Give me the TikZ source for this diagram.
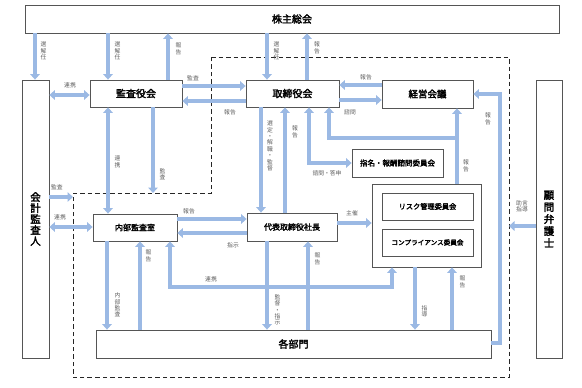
\documentclass[tikz,border=0pt]{standalone}
\usepackage{fontspec}
\setmainfont{Noto Sans CJK JP}[AutoFakeBold=2.5]
\usetikzlibrary{arrows.meta}
\definecolor{arrc}{RGB}{155,185,228}
\definecolor{bordc}{RGB}{85,85,85}
\definecolor{labc}{RGB}{95,95,95}
\tikzset{
  box/.style={draw=bordc, line width=0.8pt, fill=white, inner sep=0pt, font=\bfseries\fontsize{10}{11}\selectfont},
  arr/.style={draw=arrc, line width=4pt, -{Triangle[width=9.5pt,length=5.5pt]}},
  arrD/.style={draw=arrc, line width=4pt, {Triangle[width=9.5pt,length=5.5pt]}-{Triangle[width=9.5pt,length=5.5pt]}},
  lab/.style={text=labc, font=\fontsize{5.8}{6.4}\selectfont, inner sep=0pt, align=center},
  dashbox/.style={draw=black!85, line width=1pt, dash pattern=on 4.5pt off 3pt},
}
\begin{document}
\begin{tikzpicture}[x=1pt,y=-1pt]
\useasboundingbox[fill=white] (0,0) rectangle (582,388);
% dashed region
\coordinate (d1) at (211,57);
\coordinate (d2) at (509,57);
\coordinate (d3) at (509,377);
\coordinate (d4) at (73,377);
\coordinate (d5) at (73,193);
\coordinate (d6) at (211,193);
\draw[dashbox] (d1) -- (d2) -- (d3) -- (d4) -- (d5) -- (d6) -- cycle;
% boxes
\node[box, minimum width=534pt, minimum height=28pt] (kabu) at (292,19) {株主総会};
\node[box, minimum width=27pt, minimum height=278pt, align=center, font=\bfseries\fontsize{10.5}{11}\selectfont] (kaikei) at (35.5,219) {会\\計\\監\\査\\人};
\node[box, minimum width=26pt, minimum height=278pt, align=center, font=\bfseries\fontsize{10.5}{12}\selectfont] (komon) at (549,219) {顧\\問\\弁\\護\\士};
\node[box, minimum width=92pt, minimum height=27pt] (kansa) at (136,93.5) {監査役会};
\node[box, minimum width=93pt, minimum height=27pt] (tori) at (292.5,93.5) {取締役会};
\node[box, minimum width=91pt, minimum height=28pt, font=\bfseries\fontsize{9.5}{11}\selectfont] (keiei) at (427.5,94) {経営会議};
\node[box, minimum width=91pt, minimum height=28pt, font=\bfseries\fontsize{7.5}{9}\selectfont] (shimei) at (397.5,163) {指名・報酬諮問委員会};
\node[box, minimum width=109pt, minimum height=83pt] (iinkai) at (426.5,225.5) {};
\node[box, minimum width=91pt, minimum height=27pt, font=\bfseries\fontsize{7.2}{9}\selectfont] (risk) at (427.5,206.5) {リスク管理委員会};
\node[box, minimum width=91pt, minimum height=27pt, font=\bfseries\fontsize{6.6}{8}\selectfont] (comp) at (427.5,242.5) {コンプライアンス委員会};
\node[box, minimum width=84pt, minimum height=27pt, font=\bfseries\fontsize{8}{9}\selectfont] (naibu) at (135,227.5) {内部監査室};
\node[box, minimum width=90pt, minimum height=28pt, font=\bfseries\fontsize{8}{9}\selectfont] (daihyo) at (292,227) {代表取締役社長};
\node[box, minimum width=395pt, minimum height=28pt] (kakubu) at (293.5,344) {各部門};
% free ends and joints
\coordinate (e153) at (153,193);
\coordinate (e73) at (73,197);
\coordinate (e509) at (509,226);
\coordinate (j457) at (457,138);
\coordinate (j170) at (170,287);
\coordinate (j392) at (392,287);
% arrows from/to 株主総会
\draw[arr] (kabu.south -| 35,0) -- (kaikei.north -| 35,0);
\draw[arr] (kabu.south -| 108,0) -- (kansa.north -| 108,0);
\draw[arr] (kansa.north -| 168,0) -- (kabu.south -| 168,0);
\draw[arr] (kabu.south -| 267,0) -- (tori.north -| 267,0);
\draw[arr] (tori.north -| 307,0) -- (kabu.south -| 307,0);
% top row horizontals
\draw[arrD] (kaikei.east |- 0,95) -- (kansa.west |- 0,95);
\draw[arr] (kansa.east |- 0,86) -- (tori.west |- 0,86);
\draw[arr] (tori.west |- 0,101) -- (kansa.east |- 0,101);
\draw[arr] (keiei.west |- 0,85) -- (tori.east |- 0,85);
\draw[arr] (tori.east |- 0,100) -- (keiei.west |- 0,100);
% 監査役会 down
\draw[arrD] (kansa.south -| 108,0) -- (naibu.north -| 108,0);
\draw[arr] (kansa.south -| 153,0) -- (e153);
% 会計監査人
\draw[arr] (kaikei.east |- e73) -- (e73);
\draw[arrD] (kaikei.east |- 0,227) -- (naibu.west |- 0,227);
% 取締役会 down
\draw[arr] (tori.south -| 261,0) -- (daihyo.north -| 261,0);
\draw[arr] (daihyo.north -| 285,0) -- (tori.south -| 285,0);
\draw[arrD] (tori.south -| 309,0) |- (shimei.west);
\draw[arr] (iinkai.north -| j457) -- (keiei.south -| j457);
\draw[arr] (j457) -| (tori.south -| 329,0);
\draw[arr] (kakubu.east |- 0,343) -| (keiei.east -| 500,0) -- (keiei.east);
% 顧問弁護士
\draw[arr] (komon.west |- e509) -- (e509);
% middle row
\draw[arr] (naibu.east |- 0,219) -- (daihyo.west |- 0,219);
\draw[arr] (daihyo.west |- 0,233) -- (naibu.east |- 0,233);
\draw[arr] (daihyo.east |- 0,223) -- (iinkai.west |- 0,223);
% bottom
\draw[arr] (naibu.south -| 107,0) -- (kakubu.north -| 107,0);
\draw[arr] (kakubu.north -| 140,0) -- (naibu.south -| 140,0);
\draw[arr] (daihyo.south -| 267,0) -- (kakubu.north -| 267,0);
\draw[arr] (kakubu.north -| 308,0) -- (daihyo.south -| 308,0);
\draw[arrD] (naibu.south -| j170) -- (j170) -- (j392) -- (iinkai.south -| j392);
\draw[arr] (iinkai.south -| 415,0) -- (kakubu.north -| 415,0);
\draw[arr] (kakubu.north -| 452,0) -- (iinkai.south -| 452,0);
% labels
\node[lab] (l1) at (43.5,51) {選\\解\\任};
\node[lab] (l2) at (117.5,51) {選\\解\\任};
\node[lab] (l3) at (178.5,49) {報\\告};
\node[lab] (l4) at (276.5,51) {選\\解\\任};
\node[lab] (l5) at (317,48) {報\\告};
\node[lab] (l6) at (70,85) {連携};
\node[lab] (l7) at (193,78) {監査};
\node[lab] (l8) at (230,112) {報告};
\node[lab] (l9) at (366,77) {報告};
\node[lab] (l10) at (350,112) {諮問};
\node[lab] (l11) at (117.5,162) {連\\携};
\node[lab] (l12) at (162.5,174) {監\\査};
\node[lab] (l13) at (57,187) {監査};
\node[lab] (l14) at (60,217) {連携};
\node[lab] (l15) at (270,146) {選\\定\\・\\解\\職\\・\\監\\督};
\node[lab] (l16) at (295,132) {報\\告};
\node[lab] (l17) at (327,173) {諮問・答申};
\node[lab] (l18) at (466,166) {報\\告};
\node[lab] (l19) at (488,119) {報\\告};
\node[lab] (l20) at (522,206) {助言\\指導};
\node[lab] (l21) at (189,211) {報告};
\node[lab] (l22) at (233,245) {指示};
\node[lab] (l23) at (352,213) {主催};
\node[lab] (l24) at (117.5,305) {内\\部\\監\\査};
\node[lab] (l25) at (148.5,256) {報\\告};
\node[lab] (l26) at (211,279) {連携};
\node[lab] (l27) at (277.5,310) {監\\督\\・\\指\\示};
\node[lab] (l28) at (317.5,259) {報\\告};
\node[lab] (l29) at (424.5,311) {指\\導};
\node[lab] (l30) at (462.5,282) {報\\告};
\end{tikzpicture}
\end{document}
